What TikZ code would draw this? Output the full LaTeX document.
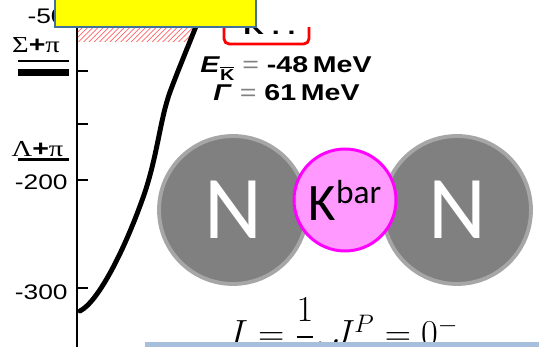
\documentclass[tikz,border=0pt]{standalone}
\usepackage{amsmath}
\usepackage{graphicx}
\usepackage{fontspec}
\setmainfont{Liberation Sans}
\newfontfamily\symb{Liberation Serif}
\newfontfamily\calib{Carlito}
\usetikzlibrary{patterns}
\definecolor{yellowA}{HTML}{FFFF00}
\definecolor{blueE}{HTML}{41719C}
\definecolor{blueB}{HTML}{A7BFDD}
\definecolor{grayN}{HTML}{808080}
\definecolor{grayR}{HTML}{A6A6A6}
\definecolor{pinkK}{HTML}{FF99FF}
\definecolor{magK}{HTML}{FF00FF}
\definecolor{redH}{HTML}{FF0000}
\newcommand{\wide}[1]{\scalebox{1.25}[1]{#1}}

\begin{document}
\begin{tikzpicture}[
  x=0.02cm, y=-0.02cm,
  axis/.style={line width=1.1pt, black},
  axlabel/.style={anchor=east, inner sep=0pt, font=\fontsize{12}{12}\selectfont},
  chan/.style={inner sep=0pt, font=\fontsize{13}{13}\selectfont},
  curve/.style={line width=2.8pt, black, line cap=round},
  valbox/.style={anchor=base west, inner sep=0pt, font=\fontsize{13}{13}\selectfont\bfseries},
  kframe/.style={draw=redH, line width=1.6pt, rounded corners=3pt, fill=white},
  titlebox/.style={fill=yellowA, draw=blueE, line width=0.6pt},
  nucleon/.style={
    circle, fill=grayN, draw=grayR, line width=2.2pt,
    minimum size=2.96cm, inner sep=0pt,
    text=white, font=\calib\fontsize{51}{51}\selectfont
  },
  kaon/.style={
    circle, fill=pinkK, draw=magK, line width=1.7pt,
    minimum size=2.04cm, inner sep=0pt,
    font=\calib\fontsize{30}{30}\selectfont
  }
]
\useasboundingbox (0,0) rectangle (539,347);
\clip (0,0) rectangle (539,347);

%% ═══ ENERGY AXIS ═══
\fill[pattern=north east lines, pattern color=redH!60] (78,27.5) rectangle (192,42);
\draw[axis] (77,0) -- (77,347);
\foreach \ty in {18,71,124,180,288}
  \draw[axis] (77,\ty) -- (88,\ty);

\node[axlabel] (t50)  at (66,16.5) {\wide{-50}};
\node[axlabel] (t200) at (68,182.5) {\wide{-200}};
\node[axlabel] (t300) at (68,292.5) {\wide{-300}};

%% thresholds
\node[chan] (sigpi) at (36,45.5) {\wide{{\symb Σ}\textbf{+}{\symb π}}};
\draw[line width=1.4pt] (18,61) -- (69,61);
\draw[line width=3.8pt] (18,72.5) -- (69,72.5);
\node[chan] (lampi) at (37.5,149.5) {\wide{{\symb Λ}\textbf{+}{\symb π}}};
\draw[line width=1.2pt] (18,159.5) -- (69,159.5);

%% binding curve
\draw[curve] (80,311) .. controls (98,302) and (125,250) .. (145,192)
  .. controls (158,152) and (160,120) .. (170,92)
  .. controls (180,65) and (195,30) .. (203,8);

%% ═══ K-bar box and values ═══
\begin{scope}
  \clip (200,28) rectangle (320,60);
  \draw[kframe] (224,-5) rectangle (309,44);
  \node[valbox] (ktext) at (243,35) {\wide{K . .}};
\end{scope}

\node[valbox] (eval) at (200,73)
  {\wide{\textit{E}{\fontsize{9}{9}\selectfont\raisebox{-0.45em}{$\overline{\mbox{K}}$}}\ \textcolor{gray}{\mdseries=}\ -48\,MeV}};
\node[valbox] (gval) at (213,101)
  {\wide{\textit{Γ}\ \textcolor{gray}{\mdseries=}\ 61\,MeV}};

%% ═══ TITLE ═══
\draw[titlebox] (55,-5) rectangle (256,27);

%% ═══ NN-Kbar ═══
\node[nucleon] (nL) at (233,210) {N};
\node[nucleon] (nR) at (457,210) {N};
\node[kaon] (kb) at (345,200) {K\raisebox{9.6pt}{\fontsize{19}{19}\selectfont bar}};

%% ═══ QUANTUM NUMBERS ═══
\node[anchor=base west, inner sep=0pt, font=\fontsize{20.74}{20.74}\selectfont] (qnum)
  at (229,346) {$I=\dfrac{1}{2}, J^P=0^-$};
\fill[blueB] (145,342) rectangle (545,352);

\end{tikzpicture}
\end{document}
